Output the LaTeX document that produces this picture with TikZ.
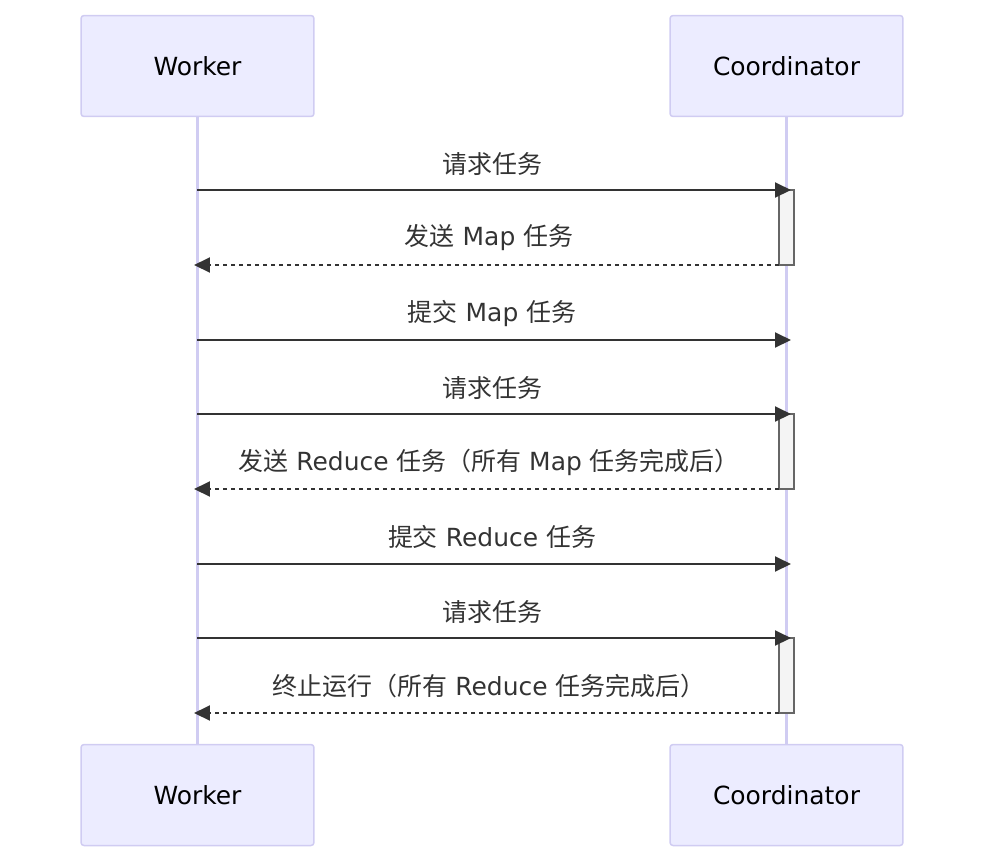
\documentclass[tikz,border=0pt]{standalone}
\usepackage{fontspec}
\setmainfont{DejaVu Sans}
\newfontfamily\zhfont{Noto Sans CJK SC}
\usetikzlibrary{arrows.meta}
\definecolor{actorfill}{HTML}{ECECFF}
\definecolor{actorline}{HTML}{D0CCF2}
\definecolor{msgline}{HTML}{333333}
\definecolor{actfill}{HTML}{F4F4F4}
\definecolor{actline}{HTML}{666666}
\newcommand{\zh}[1]{{\zhfont #1}}
\tikzset{
  actor/.style={draw=actorline, fill=actorfill, line width=0.03cm, rounded corners=0.06cm,
    minimum width=4.66cm, minimum height=2.02cm, text=black,
    font=\fontsize{14.2pt}{17pt}\selectfont},
  lifeline/.style={draw=actorline, line width=0.06cm},
  activation/.style={draw=actline, fill=actfill, line width=0.025cm},
  msg/.style={draw=msgline, line width=0.04cm, -{Triangle[length=0.32cm,width=0.3cm]}},
  reply/.style={msg, dash pattern=on 0.09cm off 0.07cm},
  msglabel/.style={text=msgline, font=\fontsize{14.2pt}{17pt}\selectfont}
}
\begin{document}
\begin{tikzpicture}[x=0.02cm, y=-0.02cm]
  \useasboundingbox (0,0) rectangle (984,863);

  % Drawing the actors
  \node [actor] (workertop) at (197.5,66) {Worker};
  \node [actor] (coordtop) at (786.5,66) {Coordinator};
  \node [actor] (workerbot) at (197.5,795) {Worker};
  \node [actor] (coordbot) at (786.5,795) {Coordinator};

  % Drawing the lifelines
  \draw [lifeline] (197,116) -- (197,745);
  \draw [lifeline] (786,116) -- (786,745);

  % Drawing the activation boxes
  \draw [activation] (779,190) rectangle (794,265);
  \draw [activation] (779,414) rectangle (794,489);
  \draw [activation] (779,638) rectangle (794,713);

  % Points on the Worker lifeline
  \coordinate (w1) at (197,190);
  \coordinate (w2) at (194,265);
  \coordinate (w3) at (197,340);
  \coordinate (w4) at (197,414);
  \coordinate (w5) at (194,489);
  \coordinate (w6) at (197,564);
  \coordinate (w7) at (197,638);
  \coordinate (w8) at (194,713);

  % Points on the Coordinator lifeline
  \coordinate (c1) at (791,190);
  \coordinate (c2) at (779,265);
  \coordinate (c3) at (791,340);
  \coordinate (c4) at (791,414);
  \coordinate (c5) at (779,489);
  \coordinate (c6) at (791,564);
  \coordinate (c7) at (791,638);
  \coordinate (c8) at (779,713);

  % Drawing the messages
  \draw [msg] (w1) -- (c1);%
  \node [msglabel] (m1) at (492.5,164) {\zh{请求任务}};%

  \draw [reply] (c2) -- (w2);%
  \node [msglabel] (m2) at (489,238) {\zh{发送} Map \zh{任务}};%

  \draw [msg] (w3) -- (c3);%
  \node [msglabel] (m3) at (492,313) {\zh{提交} Map \zh{任务}};%

  \draw [msg] (w4) -- (c4);%
  \node [msglabel] (m4) at (492.5,388) {\zh{请求任务}};%

  \draw [reply] (c5) -- (w5);%
  \node [msglabel] (m5) at (489,462) {\zh{发送} Reduce \zh{任务（所有} Map \zh{任务完成后）}};%

  \draw [msg] (w6) -- (c6);%
  \node [msglabel] (m6) at (492,537) {\zh{提交} Reduce \zh{任务}};%

  \draw [msg] (w7) -- (c7);%
  \node [msglabel] (m7) at (492.5,612) {\zh{请求任务}};%

  \draw [reply] (c8) -- (w8);%
  \node [msglabel] (m8) at (489,686) {\zh{终止运行（所有} Reduce \zh{任务完成后）}};%
\end{tikzpicture}
\end{document}
